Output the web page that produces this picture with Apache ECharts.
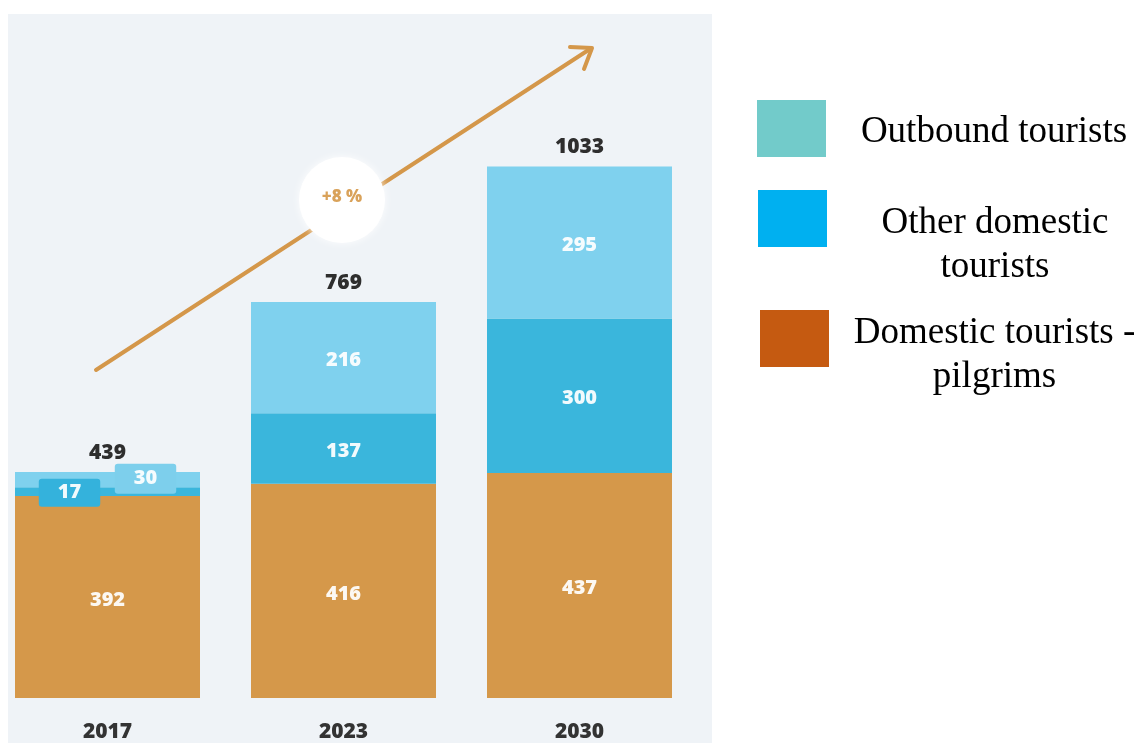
<!DOCTYPE html>
<html>
<head>
<meta charset="utf-8">
<script src="https://cdn.jsdelivr.net/npm/echarts@6/dist/echarts.min.js"></script>
<style>
  html, body { margin: 0; padding: 0; background: #ffffff; }
  #chart { width: 1139px; height: 743px; }
</style>
</head>
<body>
<div id="chart"></div>
<script>
// Tourist flows (thousands) by year
const years = ['2017', '2023', '2030'];
const pilgrims = [392, 416, 437];
const otherDomestic = [17, 137, 300];
const outbound = [30, 216, 295];
const totals = [439, 769, 1033];
const growthLabel = '+8 %';

const seriesNames = ['Outbound tourists', 'Other domestic tourists', 'Domestic tourists - pilgrims'];
const legendLines = ['Outbound tourists', 'Other domestic\ntourists', 'Domestic tourists -\npilgrims'];

const barColors = { pilgrims: '#D5984A', other: '#3AB6DC', outbound: '#7FD1EE' };
const legendColors = ['#72CBCA', '#00B0F0', '#C55A11'];

const numFont = "'Open Sans', 'DejaVu Sans', sans-serif";
const inLabel = {
  show: true, position: 'inside', color: 'rgba(255,255,255,0.93)',
  fontFamily: numFont, fontWeight: 800, fontSize: 20, offset: [0, 3]
};

// small badge labels for the thin 2017 segments
function withBadge(values, idx, badge) {
  return values.map((v, i) => i === idx ? { value: v, label: badge } : v);
}

const chart = echarts.init(document.getElementById('chart'), null, { renderer: 'canvas' });

function legendItem(i, left, top, textWidth, padTop) {
  return {
    orient: 'vertical', left: left, top: top, padding: 0,
    itemWidth: 69, itemHeight: 57, selectedMode: false,
    icon: 'rect',
    data: [{ name: seriesNames[i], itemStyle: { color: legendColors[i] } }],
    formatter: () => '{t|' + legendLines[i].split('\n').join('}\n{t|') + '}',
    textStyle: {
      padding: [padTop, 0, 0, 0],
      rich: {
        t: {
          fontFamily: "'Liberation Serif', 'Times New Roman', serif",
          fontSize: 37, lineHeight: 44, color: '#000000',
          width: textWidth, align: 'center'
        }
      }
    }
  };
}

const option = {
  backgroundColor: '#ffffff',
  animation: false,
  grid: { left: -10.5, width: 708, top: 28.5, bottom: 45, outerBoundsMode: 'none' },
  xAxis: {
    type: 'category', data: years,
    axisLine: { show: false }, axisTick: { show: false },
    axisLabel: {
      color: '#333333', fontFamily: numFont, fontWeight: 800, fontSize: 21, margin: 24
    }
  },
  yAxis: { type: 'value', min: 0, max: 1300, show: false, splitLine: { show: false } },
  legend: [
    legendItem(0, 757, 100, 326, 8),
    legendItem(1, 758, 190, 326, 53),
    legendItem(2, 760, 310, 321, 33)
  ],
  graphic: [
    { type: 'rect', z: -10, silent: true, shape: { x: 8, y: 14, width: 704, height: 729 },
      style: { fill: '#EFF3F7' } },
    { type: 'line', z: 10, silent: true, shape: { x1: 96, y1: 370, x2: 590, y2: 49 },
      style: { stroke: '#D4974A', lineWidth: 4, lineCap: 'round' } },
    { type: 'polyline', z: 10, silent: true, shape: { points: [[570, 47], [592, 48], [584, 69]] },
      style: { stroke: '#D4974A', lineWidth: 4, fill: null, lineCap: 'round', lineJoin: 'round' } },
    { type: 'circle', z: 11, silent: true, shape: { cx: 342, cy: 200, r: 43 },
      style: { fill: '#ffffff', shadowBlur: 8, shadowColor: 'rgba(255,255,255,0.9)' } },
    { type: 'text', z: 12, silent: true, x: 342, y: 197,
      style: { text: growthLabel, fill: '#D9A25A', fontFamily: numFont, fontWeight: 800,
               fontSize: 17, align: 'center', verticalAlign: 'middle' } }
  ],
  series: [
    {
      name: seriesNames[2], type: 'bar', stack: 'total', barWidth: 185,
      itemStyle: { color: barColors.pilgrims },
      label: inLabel, data: pilgrims
    },
    {
      name: seriesNames[1], type: 'bar', stack: 'total', barWidth: 185,
      itemStyle: { color: barColors.other },
      label: inLabel,
      data: withBadge(otherDomestic, 0, {
        offset: [-38, 1], backgroundColor: '#34B2DC', padding: [5, 19, 3, 19], borderRadius: 3
      })
    },
    {
      name: seriesNames[0], type: 'bar', stack: 'total', barWidth: 185,
      itemStyle: { color: barColors.outbound },
      label: inLabel,
      data: withBadge(outbound, 0, {
        offset: [38, -1], backgroundColor: '#7DCFEC', padding: [6, 19, 4, 19], borderRadius: 3
      })
    },
    {
      name: 'total', type: 'bar', barWidth: 185, barGap: '-100%', z: 1,
      itemStyle: { color: 'rgba(0,0,0,0)' },
      label: {
        show: true, position: 'top', distance: 8, color: '#2E2E2E',
        fontFamily: numFont, fontWeight: 800, fontSize: 21
      },
      data: totals
    }
  ]
};

chart.setOption(option);
</script>
</body>
</html>
